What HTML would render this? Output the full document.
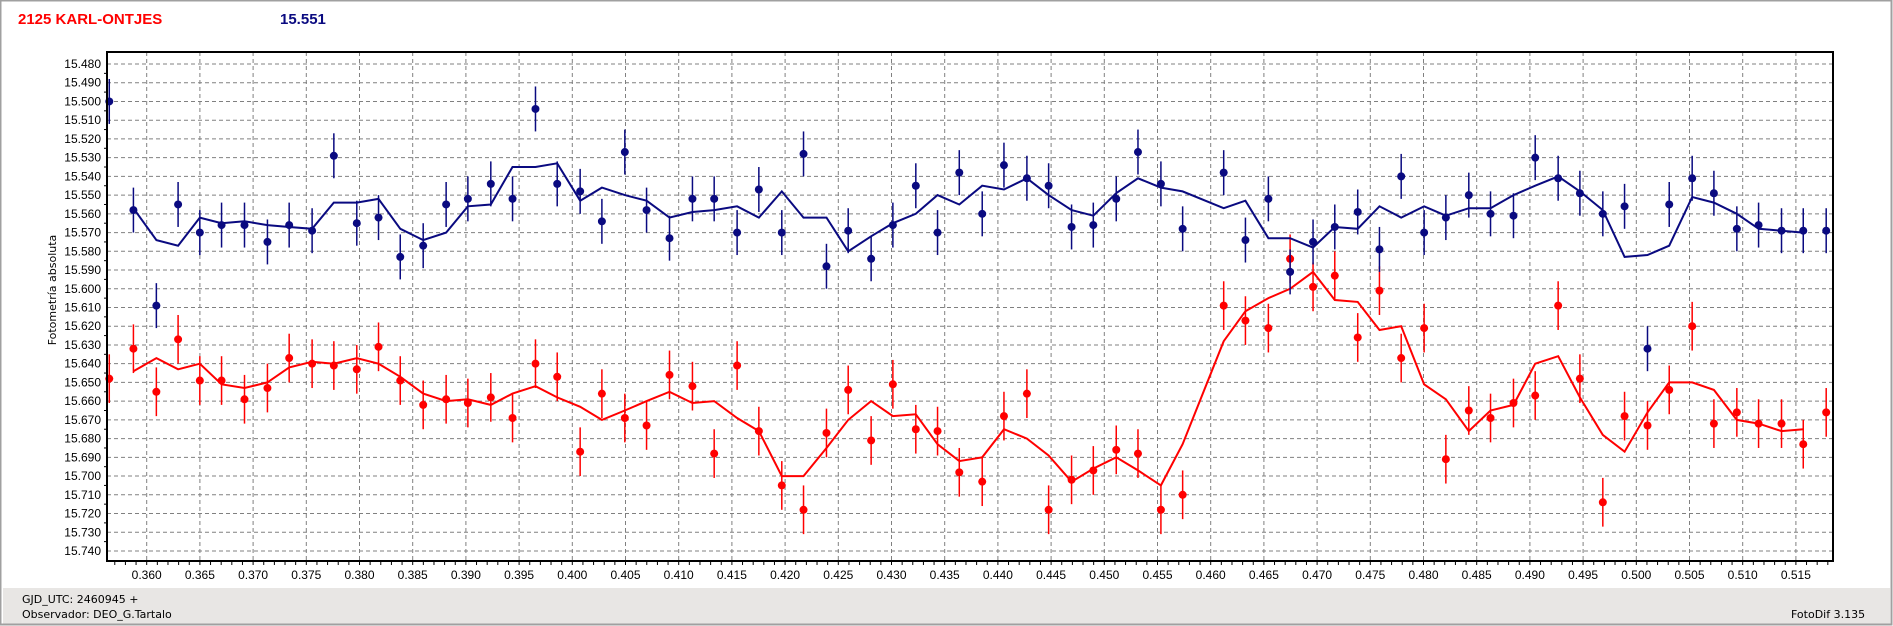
<!DOCTYPE html>
<html><head><meta charset="utf-8"><style>
html,body{margin:0;padding:0;width:1893px;height:626px;overflow:hidden;background:#fff;font-family:"Liberation Sans",sans-serif}
</style></head><body>
<svg id="s" width="1893" height="626" xmlns="http://www.w3.org/2000/svg" style="position:absolute;left:0;top:0">
<rect x="0" y="0" width="1893" height="626" fill="#fff"/>
<rect x="3" y="588" width="1887" height="36" fill="#e8e6e4"/>
<rect x="0.5" y="0.5" width="1891" height="624" fill="none" stroke="#a0a0a0" stroke-width="2"/>
<text x="18" y="24" font-size="15" font-weight="bold" fill="#ff0000" font-family="Liberation Sans,sans-serif">2125 KARL-ONTJES</text>
<text x="280" y="24" font-size="15" font-weight="bold" fill="#0a0a80" font-family="Liberation Sans,sans-serif">15.551</text>
<text x="22" y="603" font-size="11" fill="#000" font-family="DejaVu Sans,sans-serif">GJD_UTC: 2460945 +</text>
<text x="22" y="618" font-size="11" fill="#000" font-family="DejaVu Sans,sans-serif">Observador: DEO_G.Tartalo</text>
<text x="1791" y="618" font-size="11" fill="#000" font-family="DejaVu Sans,sans-serif">FotoDif 3.135</text>
<text transform="translate(56,290) rotate(-90)" text-anchor="middle" font-size="11" fill="#000" font-family="DejaVu Sans,sans-serif">Fotometría absoluta</text>
<g id="g"></g>
</svg>
<script>
var g=document.getElementById('g'),h='';
var L=107,T=52,R=1833,B=561;
function X(t){return 146.7+(t-0.360)*10640}
function DX(d){return 146.7+(d-122)*1.2074}
function Y(m){return 64+(m-15.48)*1873}
for(var i=0;i<=26;i++){var y=Y(15.48+i*0.01);h+='<line x1="'+L+'" x2="'+R+'" y1="'+y+'" y2="'+y+'" stroke="#808080" stroke-dasharray="4,3"/>';
h+='<text x="'+(L-6)+'" y="'+(y+4)+'" text-anchor="end" font-size="12" font-family="Liberation Sans,sans-serif">'+(15.48+i*0.01).toFixed(3)+'</text>';}
for(var i=0;i<=31;i++){var x=X(0.36+i*0.005);h+='<line y1="'+T+'" y2="'+B+'" x1="'+x+'" x2="'+x+'" stroke="#808080" stroke-dasharray="4,3"/>';
h+='<text x="'+x+'" y="'+(B+18)+'" text-anchor="middle" font-size="12" font-family="Liberation Sans,sans-serif">'+(0.36+i*0.005).toFixed(3)+'</text>';}
for(var t=0.357;t<0.519;t+=0.001){var x=X(t);h+='<line x1="'+x+'" x2="'+x+'" y1="'+B+'" y2="'+(B+4)+'" stroke="#000"/>';}
for(var i=0;i<26;i++){var y=Y(15.485+i*0.01);h+='<line x1="'+(L-3)+'" x2="'+L+'" y1="'+y+'" y2="'+y+'" stroke="#000"/>';}
var bp=[[91,15.500],[111,15.558],[130,15.609],[148,15.555],[166,15.570],[184,15.566],[203,15.566],[222,15.575],[240,15.566],[259,15.569],[277,15.529],[296,15.565],[314,15.562],[332,15.583],[351,15.577],[370,15.555],[388,15.552],[407,15.544],[425,15.552],[444,15.504],[462,15.544],[481,15.548],[499,15.564],[518,15.527],[536,15.558],[555,15.573],[574,15.552],[592,15.552],[611,15.570],[629,15.547],[648,15.570],[666,15.528],[685,15.588],[703,15.569],[722,15.584],[740,15.566],[759,15.545],[777,15.570],[795,15.538],[814,15.560],[832,15.534],[851,15.541],[869,15.545],[888,15.567],[906,15.566],[925,15.552],[943,15.527],[962,15.544],[980,15.568],[1014,15.538],[1032,15.574],[1051,15.552],[1069,15.591],[1088,15.575],[1106,15.567],[1125,15.559],[1143,15.579],[1161,15.540],[1180,15.570],[1198,15.562],[1217,15.550],[1235,15.560],[1254,15.561],[1272,15.530],[1291,15.541],[1309,15.549],[1328,15.560],[1346,15.556],[1365,15.632],[1383,15.555],[1402,15.541],[1420,15.549],[1439,15.568],[1457,15.566],[1476,15.569],[1494,15.569],[1513,15.569]];
var bl=[[111,15.557],[130,15.574],[148,15.577],[166,15.562],[184,15.565],[203,15.564],[222,15.566],[240,15.567],[259,15.568],[277,15.554],[296,15.554],[314,15.552],[332,15.568],[351,15.574],[370,15.570],[388,15.556],[407,15.555],[425,15.535],[444,15.535],[462,15.533],[481,15.553],[499,15.546],[518,15.550],[536,15.553],[555,15.562],[574,15.559],[592,15.558],[611,15.556],[629,15.562],[648,15.548],[666,15.562],[685,15.562],[703,15.580],[722,15.572],[740,15.565],[759,15.560],[777,15.550],[795,15.555],[814,15.545],[832,15.547],[851,15.541],[869,15.550],[888,15.558],[906,15.561],[925,15.549],[943,15.541],[962,15.546],[980,15.548],[1014,15.557],[1032,15.553],[1051,15.573],[1069,15.573],[1088,15.578],[1106,15.567],[1125,15.568],[1143,15.556],[1161,15.562],[1180,15.556],[1198,15.561],[1217,15.557],[1235,15.557],[1254,15.550],[1272,15.545],[1291,15.540],[1309,15.548],[1328,15.558],[1346,15.583],[1365,15.582],[1383,15.577],[1402,15.551],[1420,15.554],[1439,15.560],[1457,15.568],[1476,15.569],[1494,15.570]];
var rp=[[91,15.648],[111,15.632],[130,15.655],[148,15.627],[166,15.649],[184,15.649],[203,15.659],[222,15.653],[240,15.637],[259,15.640],[277,15.641],[296,15.643],[314,15.631],[332,15.649],[351,15.662],[370,15.659],[388,15.661],[407,15.658],[425,15.669],[444,15.640],[462,15.647],[481,15.687],[499,15.656],[518,15.669],[536,15.673],[555,15.646],[574,15.652],[592,15.688],[611,15.641],[629,15.676],[648,15.705],[666,15.718],[685,15.677],[703,15.654],[722,15.681],[740,15.651],[759,15.675],[777,15.676],[795,15.698],[814,15.703],[832,15.668],[851,15.656],[869,15.718],[888,15.702],[906,15.697],[925,15.686],[943,15.688],[962,15.718],[980,15.710],[1014,15.609],[1032,15.617],[1051,15.621],[1069,15.584],[1088,15.599],[1106,15.593],[1125,15.626],[1143,15.601],[1161,15.637],[1180,15.621],[1198,15.691],[1217,15.665],[1235,15.669],[1254,15.661],[1272,15.657],[1291,15.609],[1309,15.648],[1328,15.714],[1346,15.668],[1365,15.673],[1383,15.654],[1402,15.620],[1420,15.672],[1439,15.666],[1457,15.672],[1476,15.672],[1494,15.683],[1513,15.666]];
var rl=[[111,15.644],[130,15.637],[148,15.643],[166,15.640],[184,15.651],[203,15.653],[222,15.650],[240,15.642],[259,15.639],[277,15.640],[296,15.637],[314,15.640],[332,15.647],[351,15.656],[370,15.660],[388,15.659],[407,15.662],[425,15.656],[444,15.652],[462,15.658],[481,15.663],[499,15.670],[518,15.665],[536,15.660],[555,15.655],[574,15.661],[592,15.660],[611,15.669],[629,15.676],[648,15.700],[666,15.700],[685,15.685],[703,15.670],[722,15.660],[740,15.668],[759,15.667],[777,15.683],[795,15.692],[814,15.690],[832,15.675],[851,15.680],[869,15.689],[888,15.703],[906,15.696],[925,15.690],[943,15.697],[962,15.705],[980,15.683],[1014,15.628],[1032,15.612],[1051,15.605],[1069,15.600],[1088,15.591],[1106,15.606],[1125,15.607],[1143,15.622],[1161,15.620],[1180,15.651],[1198,15.659],[1217,15.676],[1235,15.665],[1254,15.662],[1272,15.640],[1291,15.636],[1309,15.658],[1328,15.678],[1346,15.687],[1365,15.666],[1383,15.650],[1402,15.650],[1420,15.654],[1439,15.670],[1457,15.672],[1476,15.676],[1494,15.675]];
function line(a,c){return '<polyline fill="none" stroke="'+c+'" stroke-width="2" points="'+a.map(function(p){return DX(p[0]).toFixed(1)+','+Y(p[1]).toFixed(1)}).join(' ')+'"/>';}
function pts(a,c,e){var s='';a.forEach(function(p){var x=DX(p[0]),y=Y(p[1]);s+='<line x1="'+x+'" x2="'+x+'" y1="'+Y(p[1]-e)+'" y2="'+Y(p[1]+e)+'" stroke="'+c+'" stroke-width="1.5"/><circle cx="'+x+'" cy="'+y+'" r="4" fill="'+c+'"/>';});return s;}
h+=pts(rp,'#ff0000',0.013)+line(rl,'#ff0000')+pts(bp,'#0a0a80',0.012)+line(bl,'#0a0a80');
h+='<rect x="'+L+'" y="'+T+'" width="'+(R-L)+'" height="'+(B-T)+'" fill="none" stroke="#000" stroke-width="2"/>';
g.innerHTML=h;
</script>
</body></html>
